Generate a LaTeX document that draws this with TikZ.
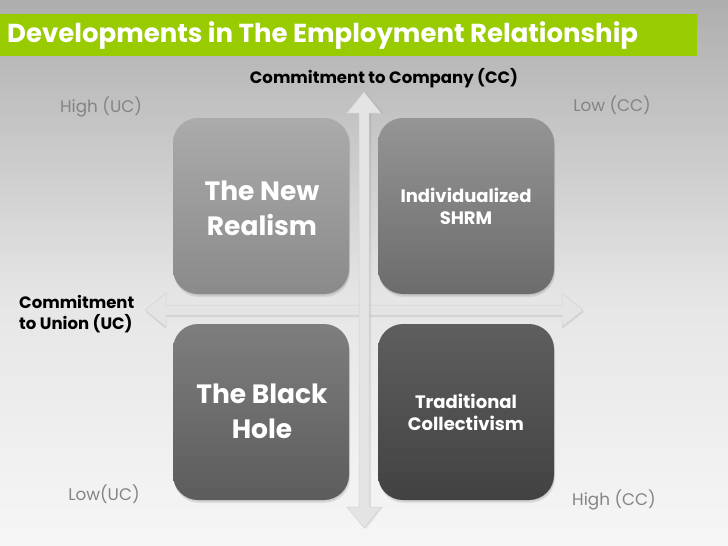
\documentclass[tikz,border=0pt]{standalone}
\usepackage{fontspec}
\setmainfont{Poppins}
\usetikzlibrary{positioning}
\definecolor{bgA}{HTML}{AEAEAE}
\definecolor{bgB}{HTML}{E6E6E6}
\definecolor{bgC}{HTML}{F6F6F6}
\definecolor{titlegreen}{HTML}{99CC00}
\definecolor{arrowfill}{HTML}{E4E4E4}
\definecolor{arrowedge}{HTML}{D2D2D2}
\definecolor{lblgray}{HTML}{848484}
\definecolor{tlA}{HTML}{ABABAB}\definecolor{tlB}{HTML}{8A8A8A}
\definecolor{trA}{HTML}{959595}\definecolor{trB}{HTML}{6C6C6C}
\definecolor{blA}{HTML}{7E7E7E}\definecolor{blB}{HTML}{5C5C5C}
\definecolor{brA}{HTML}{5E5E5E}\definecolor{brB}{HTML}{424242}
\tikzset{
  quad/.style={rounded corners=25pt, minimum width=176pt, minimum height=176pt,
    inner sep=0pt, text=white, font=\bfseries, align=center},
  bigtxt/.style={font=\fontsize{26.5}{35}\selectfont\bfseries},
  smalltxt/.style={font=\fontsize{18}{22}\selectfont\bfseries},
  sidelbl/.style={text=lblgray, font=\fontsize{16.8}{20}\selectfont, inner sep=0pt},
  axislbl/.style={text=black, font=\fontsize{16.5}{21}\selectfont\bfseries, inner sep=0pt},
  axisshape/.style={fill=arrowfill, draw=arrowedge, line width=0.5pt, line join=miter},
}
\begin{document}
\begin{tikzpicture}[x=1pt,y=-1pt]
\useasboundingbox (0,0) rectangle (728,546);
% background
\shade[top color=bgA, bottom color=bgB] (0,0) rectangle (728,300.5);
\shade[top color=bgB, bottom color=bgC] (0,300) rectangle (728,546);
% title bar
\fill[titlegreen] (0,14) rectangle (697,56);
\node[anchor=west, text=white, inner sep=0pt, font=\fontsize{26}{30}\selectfont\bfseries] (title) at (7,36) {Developments in The Employment Relationship};
% horizontal axis
\coordinate (hl) at (145,310);
\coordinate (hr) at (583,310);
\fill[black, opacity=0.08] ([shift={(1,2)}]hl) -- (166,293+2) -- (166,305+2) -- (562,305+2) -- (562,293+2) -- ([shift={(1,2)}]hr) -- (562,327+2) -- (562,315+2) -- (166,315+2) -- (166,327+2) -- cycle;
\path[axisshape] (hl) -- (166,293) -- (166,305) -- (562,305) -- (562,293) -- (hr) -- (562,327) -- (562,315) -- (166,315) -- (166,327) -- cycle;
% vertical axis
\coordinate (vt) at (364,92);
\coordinate (vb) at (364,528);
\fill[black, opacity=0.08] ([shift={(2,1)}]vt) -- (347+2,113) -- (359+2,113) -- (359+2,507) -- (347+2,507) -- ([shift={(2,1)}]vb) -- (381+2,507) -- (369+2,507) -- (369+2,113) -- (381+2,113) -- cycle;
\path[axisshape] (vt) -- (347,113) -- (359,113) -- (359,507) -- (347,507) -- (vb) -- (381,507) -- (369,507) -- (369,113) -- (381,113) -- cycle;
% quadrant shadows
\foreach \cx/\cy in {261/206, 466/206, 261/412, 466/412}{
  \fill[black, opacity=0.08, rounded corners=25pt] (\cx-88+1,\cy-88+2) rectangle (\cx+88+1,\cy+88+3);
  \fill[black, opacity=0.08, rounded corners=25pt] (\cx-88+0.5,\cy-88+1) rectangle (\cx+88+0.5,\cy+88+1.5);
}
% quadrants
\node[quad, top color=tlA, bottom color=tlB] (tl) at (261,206) {};
\node[quad, top color=trA, bottom color=trB] (tr) at (466,206) {};
\node[quad, top color=blA, bottom color=blB] (bl) at (261,412) {};
\node[quad, top color=brA, bottom color=brB] (br) at (466,412) {};
\node[bigtxt, text=white, align=center, inner sep=0pt] (tlt) at (262,208) {The New\\Realism};
\node[smalltxt, text=white, align=center, inner sep=0pt] (trt) at (466,206) {Individualized\\SHRM};
\node[bigtxt, text=white, align=center, inner sep=0pt] (blt) at (262,411) {The Black\\Hole};
\node[smalltxt, text=white, align=center, inner sep=0pt] (brt) at (466,412) {Traditional\\Collectivism};
% axis labels
\node[axislbl] (cc) at (384,78) {Commitment to Company (CC)};
\node[axislbl, align=left, anchor=west] (uc) at (19,314) {Commitment\\to Union (UC)};
% corner labels
\node[sidelbl] (huc) at (101,107) {High (UC)};
\node[sidelbl] (lcc) at (612,105) {Low (CC)};
\node[sidelbl] (luc) at (104,494) {Low(UC)};
\node[sidelbl] (hcc) at (614,500) {High (CC)};
\end{tikzpicture}
\end{document}
